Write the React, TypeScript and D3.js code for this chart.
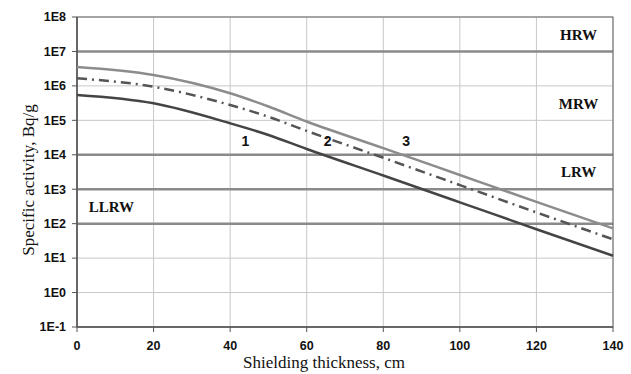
import React from "react";
import * as d3 from "d3";

const thickness = [0, 20, 40, 50, 60, 80, 100, 120, 140];
const curve1 = [5.43e5, 3.12e5, 8.2e4, 3.75e4, 1.47e4, 2.5e3, 4.17e2, 6.9e1, 1.17e1];
const curve2 = [1.66e6, 9.46e5, 2.79e5, 1.27e5, 4.93e4, 8.17e3, 1.32e3, 2.12e2, 3.51e1];
const curve3 = [3.53e6, 2.07e6, 6.1e5, 2.52e5, 9.25e4, 1.56e4, 2.59e3, 4.31e2, 7.33e1];
const curveLabels = [
  { text: "1", x: 44, y: 2.5e4 },
  { text: "2", x: 65.5, y: 2.5e4 },
  { text: "3", x: 86, y: 2.5e4 },
];
const yTickExps = [-1, 0, 1, 2, 3, 4, 5, 6, 7, 8];
const xTicks = [0, 20, 40, 60, 80, 100, 120, 140];
const boundaries = [1e7, 1e4, 1e3, 1e2];
const classLabels = [
  { text: "HRW", x: 131, y: 3.0e7 },
  { text: "MRW", x: 131, y: 3.0e5 },
  { text: "LRW", x: 131, y: 3.3e3 },
  { text: "LLRW", x: 9, y: 3.1e2 },
];

export default function App() {
  const W = 631, H = 374;
  const left = 77, right = 613, top = 17, bottom = 327;
  const x = d3.scaleLinear().domain([0, 140]).range([left, right]);
  const y = d3.scaleLog().domain([1e-1, 1e8]).range([bottom, top]);
  const line = d3
    .line<number>()
    .x((_, i) => x(thickness[i]))
    .y((d) => y(d))
    .curve(d3.curveMonotoneX);
  const tickFont = "Arial, 'Liberation Sans', sans-serif";
  const serif = "'Times New Roman', 'Liberation Serif', serif";
  return (
    <svg width={W} height={H} style={{ position: "absolute", left: 0, top: 0, background: "#fff" }}>
      <rect x={0} y={0} width={W} height={H} fill="#fff" />
      {/* grid */}
      {yTickExps.map((e) => (
        <line key={"gy" + e} x1={left} x2={right} y1={y(Math.pow(10, e))} y2={y(Math.pow(10, e))} stroke="#c8c8c8" strokeWidth={1} />
      ))}
      {xTicks.map((t) => (
        <line key={"gx" + t} x1={x(t)} x2={x(t)} y1={top} y2={bottom} stroke="#c8c8c8" strokeWidth={1} />
      ))}
      {/* boundaries */}
      {boundaries.map((b) => (
        <line key={"b" + b} x1={left} x2={right} y1={y(b)} y2={y(b)} stroke="#8a8a8a" strokeWidth={2.5} />
      ))}
      {/* frame */}
      <rect x={left} y={top} width={right - left} height={bottom - top} fill="none" stroke="#666" strokeWidth={1} />
      <line x1={left} x2={left} y1={top} y2={bottom} stroke="#555" strokeWidth={1.5} />
      <line x1={left} x2={right} y1={bottom} y2={bottom} stroke="#555" strokeWidth={1.5} />
      {/* ticks */}
      {yTickExps.map((e) => (
        <g key={"ty" + e}>
          <line x1={left - 5} x2={left} y1={y(Math.pow(10, e))} y2={y(Math.pow(10, e))} stroke="#555" strokeWidth={1} />
          <text x={left - 11} y={y(Math.pow(10, e))} dy="0.35em" textAnchor="end" fontFamily={tickFont} fontWeight="bold" fontSize={12.5} fill="#111">
            {"1E" + e}
          </text>
        </g>
      ))}
      {xTicks.map((t) => (
        <g key={"tx" + t}>
          <line x1={x(t)} x2={x(t)} y1={bottom} y2={bottom + 5} stroke="#555" strokeWidth={1} />
          <text x={x(t)} y={bottom + 23} textAnchor="middle" fontFamily={tickFont} fontWeight="bold" fontSize={12.5} fill="#111">
            {t}
          </text>
        </g>
      ))}
      {/* curves */}
      <path d={line(curve3) || ""} fill="none" stroke="#8c8c8c" strokeWidth={2.5} />
      <path d={line(curve2) || ""} fill="none" stroke="#555" strokeWidth={2.5} strokeDasharray="10,5,2,5" />
      <path d={line(curve1) || ""} fill="none" stroke="#444" strokeWidth={2.5} />
      {curveLabels.map((l) => (
        <text key={l.text} x={x(l.x)} y={y(l.y)} dy="0.35em" textAnchor="middle" fontFamily={tickFont} fontWeight="bold" fontSize={14} fill="#111">
          {l.text}
        </text>
      ))}
      {classLabels.map((l) => (
        <text key={l.text} x={x(l.x)} y={y(l.y)} dy="0.35em" textAnchor="middle" fontFamily={serif} fontWeight="bold" fontSize={15} fill="#111">
          {l.text}
        </text>
      ))}
      {/* axis titles */}
      <text x={324} y={368} textAnchor="middle" fontFamily={serif} fontSize={17} fill="#111">
        Shielding thickness, cm
      </text>
      <text transform={`translate(34, 180) rotate(-90)`} textAnchor="middle" fontFamily={serif} fontSize={17} fill="#111">
        Specific activity, Bq/g
      </text>
    </svg>
  );
}
